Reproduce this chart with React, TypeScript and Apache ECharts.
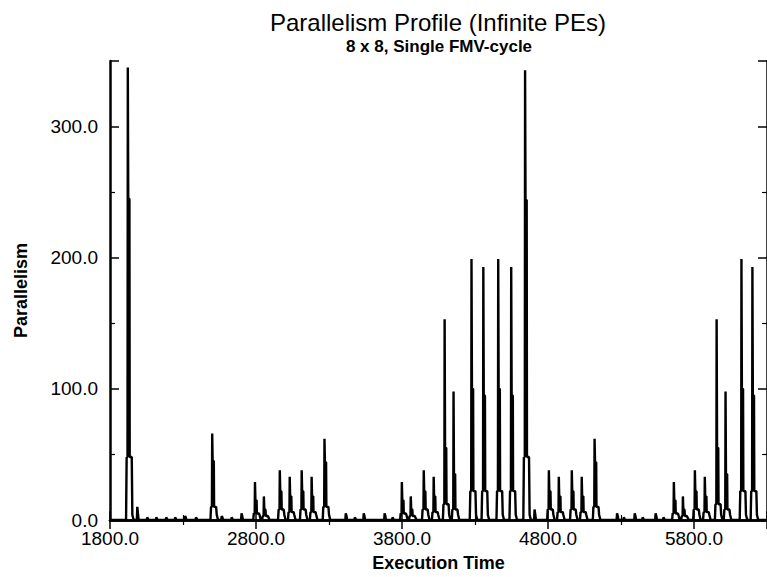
import React, { useEffect, useRef } from 'react';
import * as echarts from 'echarts';

// Peak times (execution time units) of each pulse in the profile
const spikeTime = [
  1922, 1990, 2058, 2120, 2188, 2249, 2317, 2392, 2500, 2568, 2636, 2704,
  2793, 2854, 2963, 3031, 3113, 3181, 3269, 3418, 3480, 3541, 3684, 3738,
  3799, 3860, 3949, 4017, 4092, 4153, 4276, 4357, 4459, 4548, 4643, 4711,
  4806, 4874, 4963, 5031, 5119, 5276, 5322, 5397, 5451, 5540, 5594,
  5662, 5724, 5806, 5874, 5955, 6016, 6125, 6200,
];
// Peak parallelism of each pulse
const spikePeak = [
  345, 10, 2, 2, 2, 2, 3, 2, 66, 3, 2, 5,
  29, 18, 38, 33, 38, 33, 62, 5, 2, 5, 5, 2,
  29, 18, 38, 33, 153, 98, 199, 193, 199, 193, 343, 8,
  38, 33, 38, 33, 62, 5, 2, 5, 2, 5, 2,
  29, 18, 38, 33, 153, 98, 199, 193,
];
// Level just after the peak
const spikeSecond = [
  245, 4, 1, 1, 1, 1, 2, 1, 45, 2, 1, 3,
  15, 8, 22, 18, 22, 18, 44, 3, 1, 3, 3, 1,
  15, 8, 22, 18, 55, 35, 100, 95, 100, 95, 244, 4,
  22, 18, 22, 18, 44, 3, 1, 3, 1, 3, 1,
  15, 8, 22, 18, 55, 35, 100, 95,
];
// Shoulder level at the foot of the pulse
const spikeBase = [
  48, 0, 0, 0, 0, 0, 0, 0, 10, 0, 0, 0,
  5, 3, 8, 6, 8, 6, 10, 0, 0, 0, 0, 0,
  5, 3, 8, 6, 12, 8, 22, 22, 22, 22, 48, 0,
  8, 6, 8, 6, 10, 0, 0, 0, 0, 0, 0,
  5, 3, 8, 6, 12, 8, 22, 22,
];

const xTicksMin = 1800;
const xTicksMax = 6300;
const yMax = 350;

function buildProfile(): [number, number][] {
  const pts: [number, number][] = [[xTicksMin, 0]];
  for (let i = 0; i < spikeTime.length; i++) {
    const t = spikeTime[i];
    const p = spikePeak[i];
    const s = spikeSecond[i];
    const b = spikeBase[i];
    if (p <= 10) {
      pts.push([t - 6, 0], [t - 3, p], [t + 2, s], [t + 6, 0]);
    } else {
      pts.push(
        [t - 12, 0],
        [t - 8, b],
        [t - 2, b],
        [t, p],
        [t + 3, s],
        [t + 11, s],
        [t + 13, b],
        [t + 27, b],
        [t + 31, Math.min(b, 4)],
        [t + 40, 0]
      );
    }
  }
  pts.push([xTicksMax, 0]);
  return pts;
}

const FONT = '"Liberation Sans", Arial, Helvetica, sans-serif';

export default function App() {
  const ref = useRef<HTMLDivElement>(null);
  useEffect(() => {
    if (!ref.current) return;
    const chart = echarts.init(ref.current, undefined, { renderer: 'svg' });
    const axisLine = { show: true, lineStyle: { color: '#000', width: 2.5 } };
    const tick = { show: true, inside: true, length: 9, lineStyle: { color: '#000', width: 1.5 } };
    const minor = { show: true, splitNumber: 2, length: 5, lineStyle: { color: '#000', width: 1.2 } };
    chart.setOption({
      animation: false,
      backgroundColor: '#fff',
      textStyle: { fontFamily: FONT },
      title: [
        {
          text: 'Parallelism Profile (Infinite PEs)',
          left: 433,
          top: 5,
          textAlign: 'center',
          textStyle: { fontFamily: FONT, fontSize: 24, fontWeight: 'normal', color: '#000' },
        },
        {
          text: '8 x 8, Single FMV-cycle',
          left: 434,
          top: 33,
          textAlign: 'center',
          textStyle: { fontFamily: FONT, fontSize: 17, fontWeight: 'bold', color: '#000' },
        },
      ],
      grid: { left: 110, right: -4, top: 61, bottom: 50 },
      xAxis: [
        {
          type: 'value',
          position: 'bottom',
          min: xTicksMin,
          max: xTicksMax,
          interval: 1000,
          axisLine,
          axisTick: tick,
          minorTick: minor,
          splitLine: { show: false },
          axisLabel: {
            showMaxLabel: false,
            margin: 9,
            fontSize: 19,
            color: '#000',
            fontFamily: FONT,
            formatter: (v: number) => v.toFixed(1),
          },
          name: 'Execution Time',
          nameLocation: 'middle',
          nameGap: 34,
          nameTextStyle: { fontSize: 18, fontWeight: 'bold', color: '#000', fontFamily: FONT },
        },
        {
          type: 'value',
          position: 'top',
          min: xTicksMin,
          max: xTicksMax,
          interval: 1000,
          axisLine,
          axisTick: tick,
          minorTick: minor,
          splitLine: { show: false },
          axisLabel: { show: false },
        },
      ],
      yAxis: [
        {
          type: 'value',
          position: 'left',
          min: 0,
          max: yMax,
          interval: 100,
          axisLine,
          axisTick: tick,
          minorTick: minor,
          splitLine: { show: false },
          axisLabel: {
            showMaxLabel: false,
            margin: 12,
            fontSize: 19,
            color: '#000',
            fontFamily: FONT,
            formatter: (v: number) => v.toFixed(1),
          },
          name: 'Parallelism',
          nameLocation: 'middle',
          nameGap: 80,
          nameTextStyle: { fontSize: 18, fontWeight: 'bold', color: '#000', fontFamily: FONT },
        },
        {
          type: 'value',
          position: 'right',
          min: 0,
          max: yMax,
          interval: 100,
          axisLine,
          axisTick: tick,
          minorTick: minor,
          splitLine: { show: false },
          axisLabel: { show: false },
        },
      ],
      series: [
        {
          type: 'line',
          xAxisIndex: 0,
          yAxisIndex: 0,
          data: buildProfile(),
          showSymbol: false,
          symbol: 'none',
          lineStyle: { color: '#000', width: 2.4 },
          z: 5,
        },
      ],
    });
    return () => chart.dispose();
  }, []);
  return (
    <div
      ref={ref}
      style={{ position: 'fixed', left: 0, top: 0, width: 767, height: 577, background: '#fff' }}
    />
  );
}
